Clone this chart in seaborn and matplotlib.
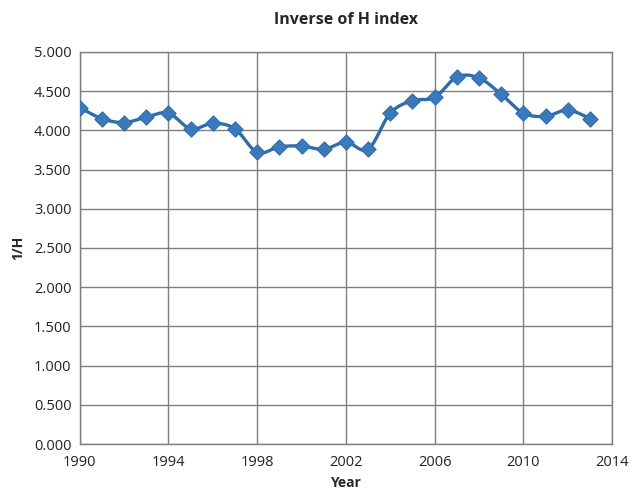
import numpy as np
import pandas as pd
import matplotlib
matplotlib.use("Agg")
import matplotlib.pyplot as plt
import seaborn as sns

years = list(range(1990, 2014))
inv_h = [4.29, 4.15, 4.10, 4.17, 4.22, 4.02, 4.09, 4.02, 3.72, 3.79, 3.80, 3.76,
         3.85, 3.76, 4.22, 4.38, 4.42, 4.68, 4.67, 4.46, 4.22, 4.18, 4.26, 4.15]
x_ticks = [1990, 1994, 1998, 2002, 2006, 2010, 2014]
y_ticks = [0.0, 0.5, 1.0, 1.5, 2.0, 2.5, 3.0, 3.5, 4.0, 4.5, 5.0]

df = pd.DataFrame({"Year": years, "1/H": inv_h})


# smooth line like excel (catmull-rom through the points)
def smooth(x, y, n=12):
    x = np.asarray(x, float)
    y = np.asarray(y, float)
    px = np.concatenate([[x[0]], x, [x[-1]]])
    py = np.concatenate([[y[0]], y, [y[-1]]])
    xs, ys = [], []
    t = np.linspace(0, 1, n, endpoint=False)
    for i in range(1, len(px) - 2):
        for arr, out in ((px, xs), (py, ys)):
            p0, p1, p2, p3 = arr[i - 1], arr[i], arr[i + 1], arr[i + 2]
            m1 = (p2 - p0) / 2
            m2 = (p3 - p1) / 2
            h00 = 2 * t**3 - 3 * t**2 + 1
            h10 = t**3 - 2 * t**2 + t
            h01 = -2 * t**3 + 3 * t**2
            h11 = t**3 - t**2
            out.extend(h00 * p1 + h10 * m1 + h01 * p2 + h11 * m2)
    xs.append(x[-1])
    ys.append(y[-1])
    return np.array(xs), np.array(ys)


sns.set_style("white")
plt.rcParams["font.family"] = ["Open Sans", "DejaVu Sans"]

fig = plt.figure(figsize=(6.33, 4.95), dpi=100)
ax = fig.add_axes([0.126, 0.103, 0.841, 0.792])

sx, sy = smooth(df["Year"], df["1/H"])
ax.plot(sx, sy, color="#2f6da8", lw=2.4, zorder=3)
sns.scatterplot(data=df, x="Year", y="1/H", marker="D", s=60, color="#3b79bd",
                edgecolor="#2f6da8", linewidth=0.8, ax=ax, zorder=4)

ax.set_xlim(1990, 2014)
ax.set_ylim(0, 5)
ax.set_xticks(x_ticks)
ax.set_yticks(y_ticks)
ax.set_yticklabels([f"{v:.3f}" for v in y_ticks])
ax.grid(True, color="#7f7f7f", lw=1.0)
ax.tick_params(length=0, labelsize=10.5, colors="#222222")
ax.tick_params(axis="x", pad=8)
ax.tick_params(axis="y", pad=6)
for s in ax.spines.values():
    s.set_color("#7f7f7f")
    s.set_linewidth(1.0)

ax.set_title("Inverse of H index", fontsize=11.5, fontweight="bold", pad=20)
ax.set_xlabel("Year", fontsize=10, fontweight="bold", labelpad=4)
ax.set_ylabel("1/H", fontsize=10, fontweight="bold", labelpad=6)

fig.savefig("out.png", dpi=100)
